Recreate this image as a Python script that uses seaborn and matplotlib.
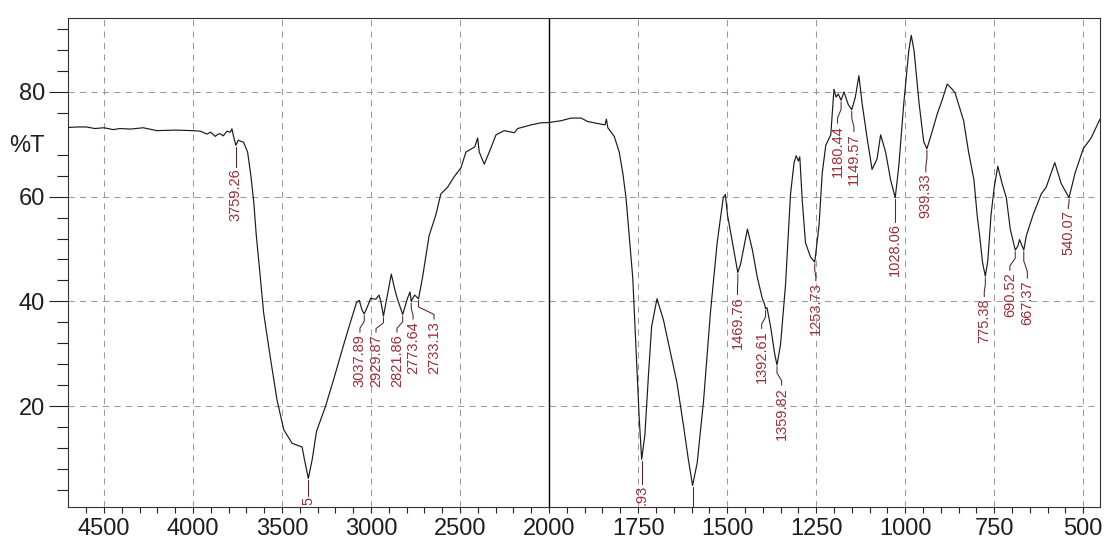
import numpy as np
import pandas as pd
import matplotlib
matplotlib.use("Agg")
import matplotlib.pyplot as plt
import seaborn as sns

# ---------------- data ----------------
wavenumber = [4700, 4650, 4600, 4550, 4500, 4448, 4410, 4350, 4279, 4203, 4100, 4000,
              3959, 3922, 3900, 3875, 3860, 3847, 3830, 3809, 3790, 3781, 3772, 3759,
              3745, 3734, 3716, 3693, 3674, 3659, 3644, 3625, 3603, 3565, 3528, 3490,
              3443, 3387, 3374, 3352, 3330, 3306, 3256, 3209, 3153, 3105, 3081, 3066,
              3050, 3038, 3020, 3002, 2974, 2955, 2945, 2930, 2908, 2886, 2868, 2852,
              2822, 2796, 2781, 2774, 2767, 2755, 2733, 2711, 2674, 2636, 2608, 2570,
              2533, 2495, 2467, 2417, 2401, 2392, 2364, 2336, 2298, 2252, 2195, 2176,
              2101, 2045, 2000,
              1966, 1938, 1910, 1892, 1863, 1843, 1839, 1835, 1817, 1803, 1793, 1784,
              1775, 1765, 1756, 1747, 1740, 1731, 1721, 1712, 1697, 1679, 1660, 1641,
              1623, 1609, 1597, 1584, 1566, 1547, 1528, 1511, 1505, 1499, 1485, 1470,
              1462, 1443, 1429, 1415, 1401, 1395, 1392, 1388, 1378, 1366, 1360, 1350,
              1336, 1322, 1312, 1306, 1300, 1296, 1289, 1280, 1266, 1254, 1242, 1233,
              1223, 1209, 1200, 1194, 1188, 1180, 1172, 1160, 1150, 1140, 1130, 1121,
              1107, 1093, 1079, 1069, 1055, 1041, 1028, 1018, 1004, 990, 983, 975,
              961, 948, 939, 924, 910, 896, 882, 868, 860, 854, 836, 822, 807, 798,
              790, 783, 775, 768, 759, 750, 740, 728, 716, 705, 691, 684, 679, 667,
              660, 641, 618, 604, 580, 562, 540, 523, 500, 478, 453]
transmittance = [73.2, 73.3, 73.3, 73.0, 73.15, 72.8, 73.0, 72.9, 73.15, 72.6, 72.7, 72.6,
                 72.5, 71.95, 72.3, 71.5, 71.9, 72.0, 71.6, 72.5, 72.3, 72.95, 71.5, 69.8,
                 70.8, 70.6, 70.4, 68.5, 63.8, 59.2, 52.5, 45.8, 37.8, 29.2, 21.2, 15.5,
                 12.9, 12.2, 9.85, 6.2, 9.85, 15.2, 19.9, 25.2, 31.8, 37.2, 39.8, 40.2,
                 38.3, 37.6, 39.0, 40.6, 40.4, 41.2, 40.0, 37.2, 41.2, 45.2, 42.5, 40.5,
                 37.5, 40.5, 41.8, 40.0, 40.5, 41.2, 40.5, 44.5, 52.5, 56.5, 60.5, 61.8,
                 63.8, 65.5, 68.5, 69.5, 71.2, 68.5, 66.2, 68.5, 71.8, 72.6, 72.2, 73.0,
                 73.7, 74.1, 74.15,
                 74.5, 75.0, 75.0, 74.35, 73.95, 73.7, 74.8, 73.15, 71.5, 68.5, 64.5, 59.8,
                 52.5, 44.5, 31.2, 17.85, 9.85, 14.5, 25.85, 35.2, 40.5, 36.5, 30.5, 24.5,
                 16.5, 9.85, 4.85, 9.2, 21.2, 37.8, 51.2, 59.8, 60.4, 56.5, 51.2, 45.5,
                 47.2, 53.8, 49.8, 44.5, 40.5, 39.5, 38.6, 38.8, 35.2, 29.8, 27.85, 31.8,
                 43.2, 60.5, 66.5, 67.8, 66.8, 67.6, 59.2, 51.2, 48.5, 47.5, 54.5, 64.5,
                 69.8, 71.8, 80.5, 79.0, 79.6, 78.4, 80.0, 77.6, 76.6, 79.0, 83.1, 77.8,
                 71.2, 65.2, 67.2, 71.8, 68.5, 63.2, 59.8, 65.8, 77.8, 87.8, 90.8, 87.8,
                 77.8, 70.5, 69.15, 72.5, 75.8, 78.5, 81.5, 80.5, 79.8, 78.5, 74.5, 68.5, 63.2, 56.5,
                 52.0, 47.5, 44.8, 47.8, 56.5, 61.8, 65.8, 62.5, 59.8, 53.8, 49.8, 50.5, 51.8, 49.8,
                 52.5, 56.5, 60.5, 61.8, 66.5, 62.5, 59.8, 64.5, 69.15, 71.2, 74.8]

# peak annotations: label text (as visible), text x, text top (%T), curve x, curve %T
# ("5" and ".93" are the only visible parts of two labels cut by the plot's lower edge)
peak_labels = ["3759.26", "5", "3037.89", "2929.87", "2821.86", "2773.64", "2733.13",
               ".93", "1469.76", "1392.61", "1359.82", "1253.73", "1180.44", "1149.57",
               "1028.06", "939.33", "775.38", "690.52", "667.37", "540.07"]
label_x = [3759, 3352, 3062, 2972, 2854, 2764, 2646,
           1740, 1471, 1403, 1347, 1251, 1190, 1144,
           1028, 942, 778, 706, 657, 542]
label_top = [65.4, 2.6, 33.8, 33.8, 33.8, 36.3, 36.3,
             4.9, 41.0, 34.5, 23.7, 43.6, 73.7, 72.1,
             54.9, 64.4, 40.6, 45.6, 44.1, 57.4]
peak_x = [3759, 3352, 3038, 2930, 2822, 2774, 2733,
          1740, 1470, 1392, 1360, 1254, 1180, 1150,
          1028, 939, 775, 691, 667, 540]
peak_t = [69.8, 6.2, 37.6, 37.2, 37.5, 40.0, 40.5,
          9.85, 45.5, 38.6, 27.85, 47.5, 78.4, 76.6,
          59.8, 69.15, 44.8, 49.8, 49.8, 59.8]
# leader whose label lies entirely below the plot area
extra_leader_x = [1597]
extra_leader_t = [4.85]

x_major = [4500, 4000, 3500, 3000, 2500, 2000, 1750, 1500, 1250, 1000, 750, 500]
y_major = [20, 40, 60, 80]

# ---------------- style ----------------
sns.set_style("ticks")
plt.rcParams['font.family'] = ['Liberation Sans', 'DejaVu Sans']

W, H = 1107, 545
fig = plt.figure(figsize=(W / 100, H / 100), dpi=100)
left, right, top, bottom = 68.3, 1100.0, 17.5, 506.7
ax = fig.add_axes([left / W, 1 - bottom / H, (right - left) / W, (bottom - top) / H])


def fwd(x):
    x = np.asarray(x, dtype=float)
    return np.where(x > 2000, 2000 + (x - 2000) / 2.0, x)


def inv(u):
    u = np.asarray(u, dtype=float)
    return np.where(u > 2000, 2000 + (u - 2000) * 2.0, u)


ax.set_xscale('function', functions=(fwd, inv))

df = pd.DataFrame({"wavenumber": wavenumber, "T": transmittance})
sns.lineplot(data=df, x="wavenumber", y="T", ax=ax, color="#1a1a1a", lw=0.85,
             sort=False, estimator=None, zorder=5)

ax.set_xlim(4700, 453)
ax.set_ylim(0.8, 94.2)

# ticks
ax.set_xticks(x_major)
ax.set_xticklabels([str(v) for v in x_major])
minor_x = [v for v in range(4600, 2000, -100) if v not in x_major] + \
          [v for v in range(1950, 450, -50) if v not in x_major]
ax.set_xticks(minor_x, minor=True)
ax.set_yticks(y_major)
ax.set_yticklabels([str(v) for v in y_major])
minor_y = [v for v in range(4, 94, 4) if v not in y_major and v != 72]
ax.set_yticks(minor_y, minor=True)

ax.tick_params(axis='x', which='both', direction='out', length=4.4, width=0.8,
               color='#222222', labelsize=17, pad=4, labelcolor='#1e1e1e')
ax.tick_params(axis='y', which='major', direction='out', length=13.7, width=0.8,
               color='#222222', labelsize=17, pad=3, labelcolor='#1e1e1e')
ax.tick_params(axis='y', which='minor', direction='out', length=7.9, width=0.8,
               color='#222222')
ax.set_xlabel("")
ax.set_ylabel("")

for s in ax.spines.values():
    s.set_color('#333333')
    s.set_linewidth(0.8)
    s.set_visible(True)

# grid
ax.grid(True, which='major', axis='both', color='#9a9a9a', linestyle=(0, (6, 5)), lw=0.75)
ax.grid(False, which='minor')
ax.axvline(2000, color='black', lw=1.0, zorder=4)

# annotations
txt_color = '#9b2d35'
line_color = '#5a2222'
for s, lx, lt, px, pt in zip(peak_labels, label_x, label_top, peak_x, peak_t):
    y1 = pt - 0.3
    y_end = lt + 0.3
    ym1 = y1 - 0.35 * (y1 - y_end)
    ym2 = y1 - 0.75 * (y1 - y_end)
    ax.plot([px, px, lx, lx], [y1, ym1, ym2, y_end], color=line_color, lw=0.75,
            zorder=6, clip_on=True)
    ax.text(lx, lt, s, rotation=90, ha='center', va='top', fontsize=10.5,
            color=txt_color, clip_on=True, zorder=7)
for px, pt in zip(extra_leader_x, extra_leader_t):
    ax.plot([px, px], [pt - 0.3, 0.0], color=line_color, lw=0.75, zorder=6, clip_on=True)

fig.text(27 / W, 1 - 146 / H, "%T", ha='center', va='center', fontsize=17, color='#1e1e1e')

fig.savefig("out.png", dpi=100)
